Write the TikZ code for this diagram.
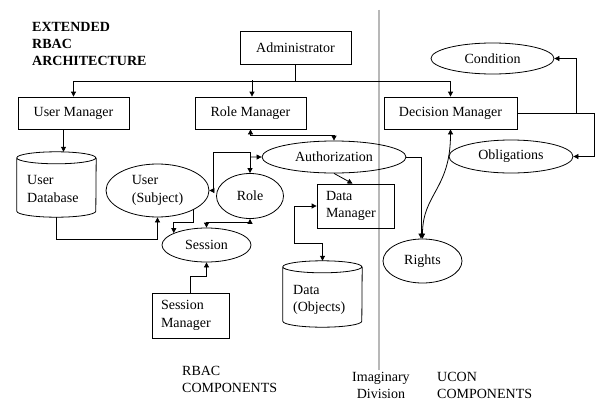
\documentclass[tikz,border=0pt]{standalone}
\usepackage{fontspec}
\setmainfont{Liberation Serif}
\usetikzlibrary{arrows.meta,shapes.geometric}
\begin{document}
\begin{tikzpicture}[x=1pt,y=-1pt,
  every node/.style={font=\fontsize{14}{17.5}\selectfont},
  box/.style={draw,line width=0.8pt,rectangle,inner sep=0pt},
  lbox/.style={draw,line width=0.8pt,rectangle,inner xsep=9pt,inner ysep=0pt,align=left},
  ell/.style={draw,line width=0.8pt,ellipse,inner sep=0pt,align=left},
  region/.style={draw=none,rectangle,inner sep=0pt},
  conn/.style={line width=0.8pt},
  >={Triangle[length=5pt,width=5pt]}]
\useasboundingbox (0,0) rectangle (596,404);
\fill[white] (0,0) rectangle (596,404);
% divider
\draw[line width=1.5pt,color=black!28] (379,10) -- (379,370);
% title
\node[anchor=north west,inner sep=0pt,align=left,font=\fontsize{14}{17}\selectfont\bfseries] (title) at (32,22) {EXTENDED\\RBAC\\ARCHITECTURE};
% boxes
\node[box,minimum width=111,minimum height=33] (admin) at (295.5,47.5) {Administrator};
\node[box,minimum width=111,minimum height=32] (um) at (73.5,113) {User Manager};
\node[box,minimum width=111,minimum height=32] (rm) at (250.5,113) {Role Manager};
\node[box,minimum width=133,minimum height=32] (dm) at (450.5,113) {Decision Manager};
\node[lbox,text width=59,minimum height=44] (dmgr) at (355.5,206) {Data\\Manager};
\node[lbox,text width=59,minimum height=45] (smgr) at (190.5,315.5) {Session\\Manager};
% ellipses
\node[ell,minimum width=123,minimum height=31] (cond) at (492.5,58.5) {Condition};
\node[ell,minimum width=124,minimum height=33] (obl) at (511,156.5) {Obligations};
\node[ell,minimum width=144,minimum height=32] (auth) at (334,157) {Authorization};
\node[ell,minimum width=79,minimum height=44] (rights) at (422.5,261) {Rights};
\node[ell,minimum width=103,minimum height=53] (user) at (157.5,190.5) {User\\(Subject)};
\node[ell,minimum width=67,minimum height=45] (role) at (250,196) {Role};
\node[ell,minimum width=89,minimum height=34] (session) at (206.5,245) {Session};
% cylinders
\node[region,minimum width=79,minimum height=65] (udb) at (56.5,184.5) {};
\draw[line width=0.8pt] (udb.north west) ++(0,6) arc[start angle=180,end angle=-180,x radius=39.5,y radius=6]
  (udb.north west) ++(0,6) -- ([yshift=6pt]udb.south west) arc[start angle=180,end angle=360,x radius=39.5,y radius=-6]
  -- ([yshift=-6pt]udb.north east);
\node[anchor=west,inner sep=0pt,align=left] (udbtext) at (27,189) {User\\Database};
\node[region,minimum width=79,minimum height=66] (dobj) at (322.5,294) {};
\draw[line width=0.8pt] (dobj.north west) ++(0,6) arc[start angle=180,end angle=-180,x radius=39.5,y radius=6]
  (dobj.north west) ++(0,6) -- ([yshift=6pt]dobj.south west) arc[start angle=180,end angle=360,x radius=39.5,y radius=-6]
  -- ([yshift=-6pt]dobj.north east);
\node[anchor=west,inner sep=0pt,align=left] (dtext) at (293,300) {Data\\(Objects)};
% bottom labels
\node[anchor=north west,inner sep=0pt,align=left] (rbac) at (182,366) {RBAC\\COMPONENTS};
\node[anchor=north west,inner sep=0pt,align=center] (imag) at (352,372) {Imaginary\\Division};
\node[anchor=north west,inner sep=0pt,align=left] (ucon) at (437,372) {UCON\\COMPONENTS};
% connectors
\draw[conn,->] (admin.south) -- ++(0,16.5) -| (um.north);
\draw[conn,->] (admin.south) -- ++(0,16.5) -| (dm.north);
\draw[conn,->] ([xshift=1.5pt,yshift=16.5pt]rm.north) -- ([xshift=1.5pt]rm.north);
\draw[conn,->] ([xshift=-10pt]um.south) -- ([xshift=7pt]udb.north);
\draw[conn,<->] (rm.south) -- ++(0,6) -| (auth.north);
\draw[conn,<->] (user.east) -- ++(4,0) |- ([yshift=21pt]role.north) -- (role.north);
\draw[conn,->] ([yshift=16pt]role.north) -- (auth.west);
\draw[conn,->] (auth.south) -- ([xshift=-3pt]dmgr.north);
\draw[conn,<->] (dmgr.west) -- ++(-22,0) |- ([yshift=17pt]dobj.north) -- (dobj.north);
\draw[conn,->] (udb.south) -- ++(0,22) -| (user.south);
\draw[conn,->] (user.-29.5) -- ++(0,12) -| (session.160);
\draw[conn,<->] (session.north) -- ++(0,-5) -| (role.south);
\draw[conn,->] (smgr.north) -- ++(0,-16) -| (session.south);
\draw[conn,->] (auth.east) -| ([xshift=-1.5pt]rights.north);
\draw[conn,<->] (dm.south) .. controls +(0,60) and +(0,-45) .. (rights.north);
\draw[conn,->] (dm.east) -- ++(77,0) |- (obl.east);
\draw[conn,->] ([xshift=59pt]dm.east) |- (cond.east);
\end{tikzpicture}
\end{document}
